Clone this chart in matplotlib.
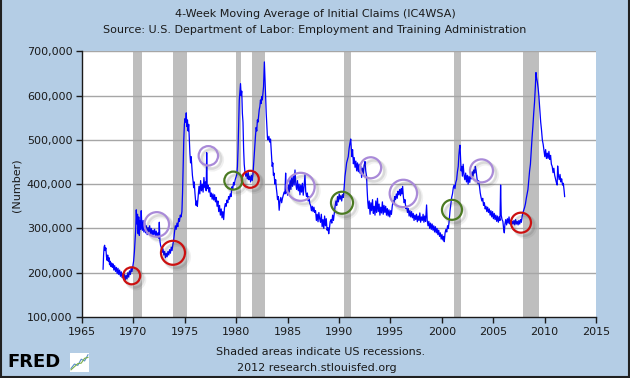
import numpy as np
import matplotlib
matplotlib.use("Agg")
import matplotlib.pyplot as plt
import matplotlib.transforms as mtransforms
from matplotlib.ticker import FuncFormatter

# weekly-ish readings of the 4-week average (thousands of claims)
dates = [
    1967.05, 1967.10, 1967.15, 1967.20, 1967.26, 1967.32, 1967.38, 1967.44, 1967.50, 1967.56,
    1967.62, 1967.68, 1967.75, 1967.82, 1967.88, 1967.95, 1968.02, 1968.10, 1968.18, 1968.26,
    1968.34, 1968.42, 1968.50, 1968.58, 1968.66, 1968.74, 1968.82, 1968.90, 1968.98, 1969.06,
    1969.14, 1969.22, 1969.30, 1969.38, 1969.46, 1969.54, 1969.62, 1969.70, 1969.78, 1969.86,
    1969.94, 1970.02, 1970.10, 1970.16, 1970.22, 1970.28, 1970.34, 1970.40, 1970.46, 1970.52,
    1970.58, 1970.64, 1970.70, 1970.76, 1970.82, 1970.88, 1970.94, 1971.02, 1971.10, 1971.18,
    1971.26, 1971.34, 1971.42, 1971.50, 1971.58, 1971.66, 1971.74, 1971.82, 1971.90, 1971.98,
    1972.06, 1972.14, 1972.22, 1972.30, 1972.38, 1972.46, 1972.52, 1972.58, 1972.64, 1972.72,
    1972.80, 1972.88, 1972.96, 1973.04, 1973.12, 1973.20, 1973.28, 1973.36, 1973.44, 1973.52,
    1973.60, 1973.68, 1973.76, 1973.84, 1973.92, 1974.00, 1974.08, 1974.16, 1974.24, 1974.32,
    1974.40, 1974.48, 1974.56, 1974.64, 1974.72, 1974.78, 1974.84, 1974.90, 1974.96, 1975.02,
    1975.08, 1975.14, 1975.20, 1975.26, 1975.32, 1975.38, 1975.44, 1975.50, 1975.56, 1975.62,
    1975.68, 1975.74, 1975.80, 1975.86, 1975.92, 1975.98, 1976.04, 1976.10, 1976.16, 1976.22,
    1976.30, 1976.38, 1976.46, 1976.54, 1976.62, 1976.70, 1976.78, 1976.86, 1976.94, 1977.02,
    1977.08, 1977.13, 1977.18, 1977.26, 1977.34, 1977.42, 1977.50, 1977.58, 1977.66, 1977.74,
    1977.82, 1977.90, 1977.98, 1978.06, 1978.14, 1978.22, 1978.30, 1978.38, 1978.46, 1978.54,
    1978.62, 1978.70, 1978.78, 1978.86, 1978.94, 1979.02, 1979.10, 1979.18, 1979.26, 1979.34,
    1979.42, 1979.50, 1979.58, 1979.66, 1979.74, 1979.82, 1979.90, 1979.98, 1980.06, 1980.12,
    1980.18, 1980.24, 1980.30, 1980.36, 1980.42, 1980.48, 1980.54, 1980.60, 1980.66, 1980.72,
    1980.78, 1980.84, 1980.92, 1981.00, 1981.08, 1981.16, 1981.24, 1981.32, 1981.40, 1981.48,
    1981.56, 1981.64, 1981.70, 1981.76, 1981.82, 1981.88, 1981.94, 1982.00, 1982.06, 1982.12,
    1982.18, 1982.24, 1982.30, 1982.36, 1982.42, 1982.48, 1982.54, 1982.60, 1982.66, 1982.74,
    1982.80, 1982.86, 1982.92, 1982.98, 1983.04, 1983.10, 1983.18, 1983.26, 1983.34, 1983.42,
    1983.50, 1983.56, 1983.62, 1983.68, 1983.76, 1983.84, 1983.90, 1983.96, 1984.02, 1984.10,
    1984.18, 1984.26, 1984.34, 1984.42, 1984.50, 1984.58, 1984.66, 1984.74, 1984.81, 1984.86,
    1984.92, 1985.00, 1985.08, 1985.16, 1985.24, 1985.32, 1985.40, 1985.48, 1985.56, 1985.64,
    1985.72, 1985.80, 1985.88, 1985.96, 1986.04, 1986.12, 1986.20, 1986.28, 1986.36, 1986.44,
    1986.52, 1986.60, 1986.69, 1986.76, 1986.84, 1986.92, 1987.00, 1987.08, 1987.16, 1987.24,
    1987.32, 1987.40, 1987.48, 1987.56, 1987.64, 1987.72, 1987.80, 1987.88, 1987.96, 1988.04,
    1988.12, 1988.20, 1988.28, 1988.36, 1988.44, 1988.52, 1988.60, 1988.68, 1988.76, 1988.84,
    1988.92, 1989.00, 1989.06, 1989.14, 1989.22, 1989.30, 1989.38, 1989.46, 1989.54, 1989.62,
    1989.70, 1989.78, 1989.86, 1989.94, 1990.02, 1990.10, 1990.18, 1990.26, 1990.34, 1990.42,
    1990.50, 1990.58, 1990.66, 1990.74, 1990.82, 1990.90, 1990.98, 1991.06, 1991.14, 1991.20,
    1991.26, 1991.32, 1991.40, 1991.48, 1991.56, 1991.64, 1991.72, 1991.80, 1991.88, 1991.96,
    1992.04, 1992.12, 1992.20, 1992.28, 1992.36, 1992.44, 1992.53, 1992.60, 1992.68, 1992.74,
    1992.80, 1992.86, 1992.94, 1993.02, 1993.10, 1993.18, 1993.26, 1993.34, 1993.42, 1993.50,
    1993.58, 1993.66, 1993.74, 1993.82, 1993.90, 1993.98, 1994.06, 1994.14, 1994.22, 1994.30,
    1994.38, 1994.46, 1994.54, 1994.62, 1994.70, 1994.78, 1994.86, 1994.94, 1995.02, 1995.10,
    1995.18, 1995.26, 1995.34, 1995.42, 1995.50, 1995.58, 1995.66, 1995.74, 1995.82, 1995.90,
    1995.98, 1996.06, 1996.12, 1996.19, 1996.26, 1996.34, 1996.42, 1996.50, 1996.58, 1996.66,
    1996.74, 1996.82, 1996.90, 1996.98, 1997.06, 1997.14, 1997.22, 1997.30, 1997.38, 1997.46,
    1997.54, 1997.62, 1997.70, 1997.78, 1997.86, 1997.94, 1998.02, 1998.10, 1998.18, 1998.26,
    1998.34, 1998.42, 1998.52, 1998.58, 1998.66, 1998.74, 1998.82, 1998.90, 1998.98, 1999.06,
    1999.14, 1999.22, 1999.30, 1999.38, 1999.46, 1999.54, 1999.62, 1999.70, 1999.78, 1999.86,
    1999.94, 2000.02, 2000.10, 2000.18, 2000.24, 2000.32, 2000.40, 2000.48, 2000.56, 2000.64,
    2000.72, 2000.80, 2000.88, 2000.96, 2001.04, 2001.12, 2001.20, 2001.28, 2001.36, 2001.44,
    2001.52, 2001.60, 2001.66, 2001.72, 2001.77, 2001.82, 2001.88, 2001.94, 2002.00, 2002.08,
    2002.16, 2002.24, 2002.32, 2002.40, 2002.48, 2002.56, 2002.64, 2002.72, 2002.80, 2002.88,
    2002.96, 2003.04, 2003.12, 2003.20, 2003.26, 2003.34, 2003.42, 2003.50, 2003.58, 2003.66,
    2003.74, 2003.82, 2003.90, 2003.98, 2004.06, 2004.14, 2004.22, 2004.30, 2004.38, 2004.46,
    2004.54, 2004.62, 2004.70, 2004.78, 2004.86, 2004.94, 2005.02, 2005.10, 2005.18, 2005.26,
    2005.34, 2005.42, 2005.50, 2005.58, 2005.66, 2005.72, 2005.78, 2005.86, 2005.94, 2006.02,
    2006.08, 2006.14, 2006.22, 2006.30, 2006.38, 2006.46, 2006.54, 2006.62, 2006.70, 2006.78,
    2006.86, 2006.94, 2007.02, 2007.10, 2007.18, 2007.26, 2007.34, 2007.42, 2007.50, 2007.58,
    2007.66, 2007.74, 2007.82, 2007.90, 2007.98, 2008.06, 2008.14, 2008.22, 2008.30, 2008.38,
    2008.46, 2008.54, 2008.62, 2008.70, 2008.78, 2008.86, 2008.94, 2009.02, 2009.10, 2009.16,
    2009.22, 2009.30, 2009.38, 2009.44, 2009.50, 2009.56, 2009.62, 2009.70, 2009.78, 2009.86,
    2009.94, 2010.02, 2010.10, 2010.18, 2010.26, 2010.34, 2010.42, 2010.50, 2010.58, 2010.66,
    2010.74, 2010.82, 2010.90, 2010.98, 2011.06, 2011.14, 2011.22, 2011.27, 2011.34, 2011.42,
    2011.50, 2011.58, 2011.66, 2011.74, 2011.82, 2011.90, 2011.95,
]
claims = [
    208, 240, 258, 262, 250, 256, 236, 228, 240, 226,
    234, 218, 226, 214, 222, 212, 220, 206, 216, 203,
    212, 198, 210, 196, 206, 192, 202, 189, 198, 186,
    196, 184, 194, 186, 200, 190, 204, 196, 210, 202,
    214, 226, 248, 272, 296, 342, 310, 332, 288, 326,
    284, 318, 298, 340, 305, 296, 318, 292, 312, 290,
    306, 286, 302, 292, 306, 288, 300, 284, 296, 286,
    298, 284, 294, 280, 290, 278, 314, 272, 262, 256,
    246, 254, 240, 248, 234, 244, 236, 248, 240, 252,
    244, 258, 250, 264, 274, 292, 306, 298, 312, 304,
    322, 316, 330, 326, 338, 380, 440, 500, 535, 548,
    540, 561, 530, 545, 520, 535, 500, 468, 448, 462,
    440, 420, 408, 392, 405, 382, 365, 352, 362, 350,
    372, 395, 378, 408, 385, 400, 382, 415, 392, 405,
    385, 471, 390, 398, 382, 392, 372, 380, 366, 378,
    364, 376, 360, 370, 350, 362, 338, 352, 330, 344,
    324, 338, 320, 346, 356, 350, 364, 358, 372, 366,
    378, 372, 394, 388, 404, 398, 410, 416, 422, 440,
    480, 540, 590, 610, 627, 600, 610, 560, 540, 480,
    445, 430, 418, 425, 412, 428, 410, 418, 405, 420,
    408, 425, 445, 468, 490, 510, 528, 520, 545, 540,
    555, 568, 575, 590, 582, 598, 590, 605, 620, 676,
    640, 600, 560, 530, 505, 500, 508, 495, 502, 470,
    440, 448, 420, 425, 400, 410, 392, 380, 365, 372,
    341, 362, 370, 358, 368, 375, 382, 378, 425, 380,
    392, 375, 398, 382, 410, 388, 415, 395, 418, 398,
    432, 400, 388, 408, 385, 400, 376, 398, 382, 402,
    375, 395, 421, 384, 372, 380, 362, 372, 356, 352,
    340, 350, 338, 348, 336, 340, 318, 332, 315, 336,
    322, 314, 332, 304, 320, 300, 328, 306, 322, 296,
    302, 288, 298, 315, 320, 312, 330, 318, 335, 350,
    362, 352, 372, 360, 378, 366, 374, 362, 376, 370,
    392, 418, 432, 448, 455, 462, 480, 492, 502, 480,
    462, 478, 446, 460, 438, 452, 430, 448, 428, 445,
    425, 440, 415, 436, 420, 442, 451, 430, 418, 385,
    360, 345, 362, 332, 358, 340, 365, 334, 350, 330,
    362, 336, 368, 338, 355, 330, 348, 335, 360, 332,
    352, 336, 350, 330, 345, 328, 342, 326, 340, 332,
    350, 362, 356, 372, 365, 378, 368, 384, 376, 388,
    374, 390, 378, 395, 372, 358, 365, 345, 350, 336,
    345, 328, 340, 326, 338, 324, 334, 318, 330, 320,
    332, 315, 328, 318, 335, 314, 326, 318, 332, 314,
    328, 316, 353, 318, 306, 316, 300, 312, 298, 310,
    296, 306, 292, 304, 290, 300, 286, 296, 282, 290,
    276, 286, 274, 282, 270, 290, 298, 292, 306, 300,
    318, 340, 356, 370, 378, 392, 398, 390, 404, 410,
    428, 440, 465, 480, 488, 460, 430, 440, 418, 445,
    420, 410, 425, 405, 420, 400, 418, 404, 420, 412,
    428, 418, 432, 425, 440, 430, 414, 402, 408, 396,
    380, 370, 362, 368, 352, 358, 344, 350, 338, 348,
    336, 344, 330, 340, 326, 338, 322, 334, 320, 330,
    316, 328, 314, 326, 318, 398, 330, 320, 316, 298,
    290, 310, 320, 308, 322, 312, 326, 310, 318, 308,
    316, 310, 318, 308, 320, 310, 316, 308, 318, 310,
    320, 314, 328, 336, 342, 348, 356, 368, 378, 388,
    410, 430, 445, 475, 505, 530, 560, 585, 620, 652,
    640, 630, 615, 600, 580, 560, 540, 522, 500, 490,
    475, 462, 478, 458, 470, 458, 474, 456, 465, 445,
    440, 426, 436, 420, 412, 404, 398, 441, 420, 410,
    422, 405, 412, 398, 402, 385, 372,
]

recession_start = [1969.92, 1973.83, 1980.00, 1981.50, 1990.50, 2001.17, 2007.92]
recession_end = [1970.83, 1975.17, 1980.50, 1982.83, 1991.17, 2001.83, 2009.42]

# hand-drawn circles on the original chart
circle_years = [1969.83, 1973.85, 1981.37, 2007.70,
                1979.72, 1990.29, 2000.99,
                1972.27, 1977.29, 1986.27, 1993.08, 1996.26, 2003.86]
circle_values = [193, 245, 411, 313,
                 408, 358, 342,
                 309, 464, 394, 437, 379, 430]
circle_kind = ["red"] * 4 + ["green"] * 3 + ["purple"] * 6
circle_radius_px = [8.5, 12, 8.5, 10, 9, 11, 10, 12.3, 9.7, 14, 10.5, 13.7, 11.5]

kind_color = {"red": "#CC1010", "green": "#4B7A22", "purple": "#A98AD8"}

bg = "#B4CDE5"
txt = "#1a1a1a"

fig = plt.figure(figsize=(6.3, 3.78), dpi=100, facecolor=bg)
ax = fig.add_axes([82 / 630, 1 - 317 / 378, 514 / 630, 265.7 / 378])
ax.set_facecolor("white")

for s, e in zip(recession_start, recession_end):
    ax.axvspan(s, e, color="#BEBEBE", lw=0, zorder=1)

for v in range(200, 701, 100):
    ax.axhline(v * 1000, color="#A6A6A6", lw=1.0, zorder=2)

ax.plot(dates, np.array(claims) * 1000, color="#0000FF", lw=0.9, zorder=3)

# circles with a soft drop shadow
xs = np.array(circle_years)
ys = np.array(circle_values) * 1000
sizes = (2 * np.array(circle_radius_px) * 0.72) ** 2
for dx, dy, a, w in [(4, -4, 0.07, 3.0), (3, -3, 0.12, 2.0)]:
    shadow = mtransforms.offset_copy(ax.transData, fig=fig, x=dx, y=dy, units="dots")
    ax.scatter(xs, ys, s=sizes, facecolors="none", edgecolors="#333333",
               linewidths=w, alpha=a, transform=shadow, zorder=4)
ax.scatter(xs, ys, s=sizes, facecolors="none",
           edgecolors=[kind_color[k] for k in circle_kind], linewidths=1.6, zorder=5)

ax.set_xlim(1965, 2015)
ax.set_ylim(100000, 700000)
ax.set_xticks(range(1965, 2016, 5))
ax.set_yticks(range(100000, 700001, 100000))
ax.yaxis.set_major_formatter(FuncFormatter(lambda v, p: f"{int(v):,}"))
ax.tick_params(axis="both", direction="out", length=4, width=1, color=txt,
               labelsize=8, labelcolor=txt, pad=3)
for side in ["top", "right"]:
    ax.spines[side].set_visible(False)
for side in ["left", "bottom"]:
    ax.spines[side].set_color(txt)
    ax.spines[side].set_linewidth(1)

fig.text(0.5, 1 - 14 / 378, "4-Week Moving Average of Initial Claims (IC4WSA)",
         ha="center", va="center", fontsize=8, color=txt)
fig.text(0.5, 1 - 30 / 378, "Source: U.S. Department of Labor: Employment and Training Administration",
         ha="center", va="center", fontsize=8, color=txt)
fig.text(17 / 630, 1 - 185 / 378, "(Number)", rotation=90, ha="center", va="center",
         fontsize=8, color=txt)
fig.text(321 / 630, 1 - 352 / 378, "Shaded areas indicate US recessions.",
         ha="center", va="center", fontsize=8, color=txt)
fig.text(317 / 630, 1 - 368 / 378, "2012 research.stlouisfed.org",
         ha="center", va="center", fontsize=8, color=txt)

# FRED logo
fig.text(7 / 630, 1 - 362 / 378, "FRED", ha="left", va="center", fontsize=13,
         fontweight="bold", color="black")
logo = fig.add_axes([70 / 630, 1 - 372 / 378, 19 / 630, 19 / 378])
logo.set_facecolor("white")
logo.plot([0, 1, 2, 3, 4, 5], [0.5, 1.5, 1.2, 2.6, 2.2, 3.6], color="#5A8FC8", lw=0.8)
logo.plot([0, 1, 2, 3, 4, 5], [0.2, 0.9, 1.6, 1.7, 2.8, 3.0], color="#7DB04A", lw=0.8)
logo.set_xlim(-0.3, 5.3)
logo.set_ylim(-0.3, 4)
logo.set_xticks([])
logo.set_yticks([])
for sp in logo.spines.values():
    sp.set_visible(False)

# outer frame on left, right and bottom
for xline, yline in [([0.001, 0.001], [0, 1]), ([0.998, 0.998], [0, 1]), ([0, 1], [0.003, 0.003])]:
    fig.add_artist(plt.Line2D(xline, yline, transform=fig.transFigure, color="#202020", lw=1.5))

fig.savefig("out.png", dpi=100, facecolor=bg)
